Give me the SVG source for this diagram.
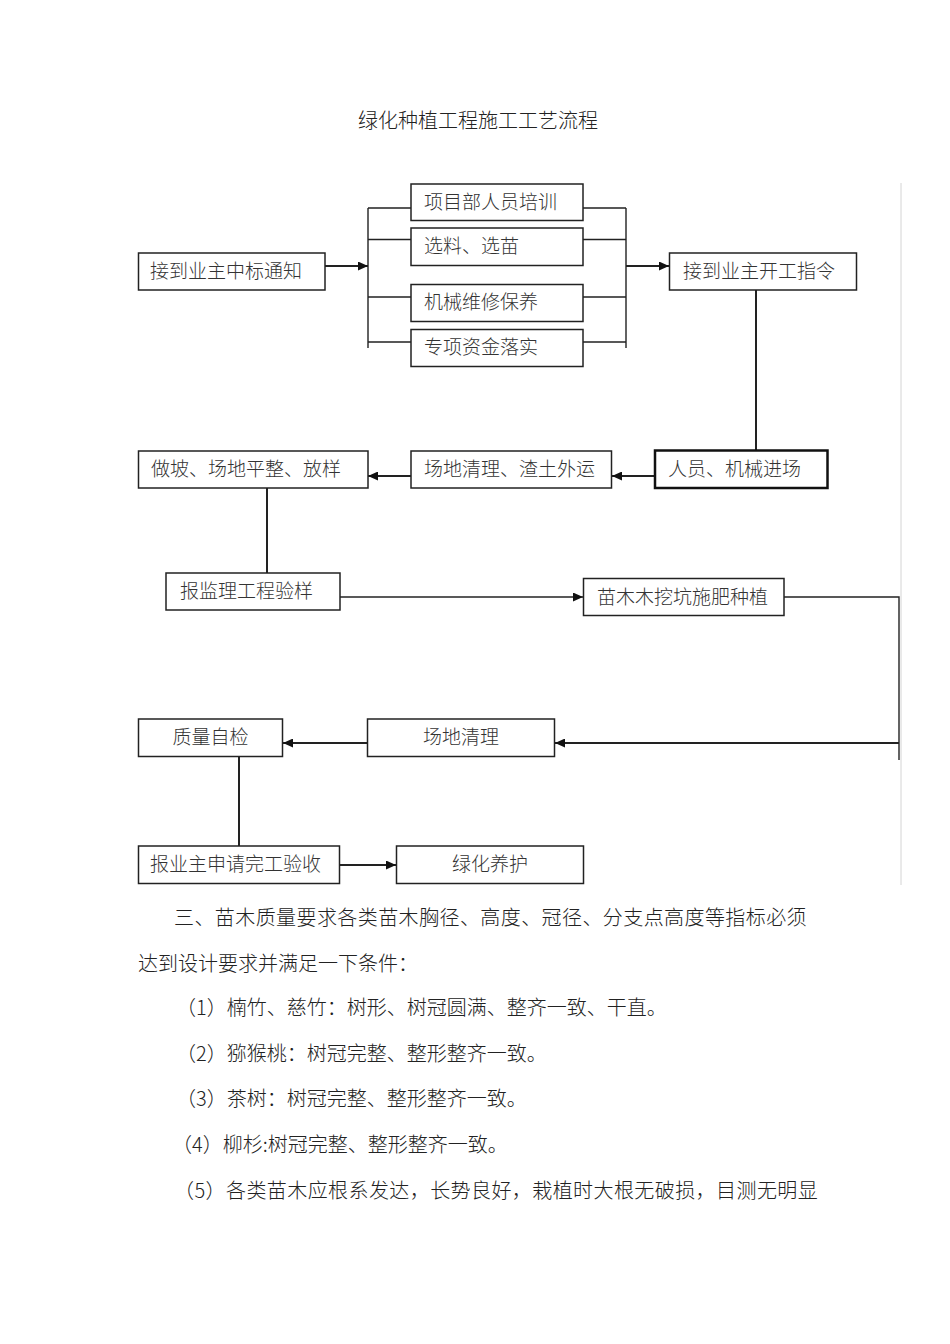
<svg xmlns="http://www.w3.org/2000/svg" width="950" height="1344" viewBox="0 0 950 1344">
<defs>
<style>
.bx{fill:#fff;stroke:#222;stroke-width:1.5}
.bxt{fill:#fff;stroke:#111;stroke-width:2.5}
.t{font-family:"Noto Sans CJK SC","Noto Sans",sans-serif;font-size:19px;fill:#333;font-weight:300}
.c{text-anchor:middle}
.p{font-family:"Noto Sans CJK SC","Noto Sans",sans-serif;font-size:20px;fill:#222;font-weight:300}
.w{letter-spacing:0.42px}
.ln{fill:none;stroke:#222;stroke-width:2}
.lt{fill:none;stroke:#222;stroke-width:1.4}
</style>
<marker id="ah" markerUnits="userSpaceOnUse" markerWidth="10" markerHeight="9" refX="10" refY="4.5" orient="auto">
<path d="M0,0 L10,4.5 L0,9 z" fill="#111"/>
</marker>
</defs>
<rect width="950" height="1344" fill="#fff"/>
<line x1="901" y1="183" x2="901" y2="885" stroke="#d4d4d4" stroke-width="1"/>
<text class="p c" x="478" y="128">绿化种植工程施工工艺流程</text>

<g id="connectors">
<path class="ln" d="M325,266 H368" marker-end="url(#ah)"/>
<path class="lt" d="M368,208 V348 M368,208 H411 M368,239.5 H411 M368,297 H411 M368,342 H411"/>
<path class="lt" d="M626,208 V348 M583,208 H626 M583,239.5 H626 M583,297 H626 M583,342 H626"/>
<path class="ln" d="M626,266 H669" marker-end="url(#ah)"/>
<path class="ln" d="M756,290 V450"/>
<path class="ln" d="M655,476 H612" marker-end="url(#ah)"/>
<path class="ln" d="M411,476 H368" marker-end="url(#ah)"/>
<path class="ln" d="M267,488 V573"/>
<path class="lt" d="M340,597 H583" marker-end="url(#ah)"/>
<path class="lt" d="M784,597 H899 V760"/>
<path class="ln" d="M899,743 H555" marker-end="url(#ah)"/>
<path class="ln" d="M368,743 H283" marker-end="url(#ah)"/>
<path class="ln" d="M239,757 V846"/>
<path class="ln" d="M340,865 H396" marker-end="url(#ah)"/>
</g>

<g id="n1"><rect class="bx" x="138.5" y="253" width="186.5" height="37"/><text class="t" x="150" y="278">接到业主中标通知</text></g>
<g id="n2"><rect class="bx" x="411" y="184" width="172" height="36.5"/><text class="t" x="424" y="209">项目部人员培训</text></g>
<g id="n3"><rect class="bx" x="411" y="228" width="172" height="37.5"/><text class="t" x="424" y="253">选料、选苗</text></g>
<g id="n4"><rect class="bx" x="411" y="284.5" width="172" height="37"/><text class="t" x="424" y="309">机械维修保养</text></g>
<g id="n5"><rect class="bx" x="411" y="329.5" width="172" height="37"/><text class="t" x="424" y="354">专项资金落实</text></g>
<g id="n6"><rect class="bx" x="669.5" y="253" width="187" height="37"/><text class="t" x="683" y="278">接到业主开工指令</text></g>
<g id="n7"><rect class="bxt" x="655" y="450.5" width="172.5" height="37.5"/><text class="t" x="668" y="476">人员、机械进场</text></g>
<g id="n8"><rect class="bx" x="411" y="451" width="200.5" height="37"/><text class="t" x="424" y="476">场地清理、渣土外运</text></g>
<g id="n9"><rect class="bx" x="138.5" y="451" width="229.5" height="37"/><text class="t" x="151" y="476">做坡、场地平整、放样</text></g>
<g id="n10"><rect class="bx" x="166" y="573" width="174" height="37"/><text class="t" x="180" y="598">报监理工程验样</text></g>
<g id="n11"><rect class="bx" x="583.5" y="578.5" width="200.5" height="37"/><text class="t" x="597" y="604">苗木木挖坑施肥种植</text></g>
<g id="n12"><rect class="bx" x="367.5" y="719" width="187" height="37.5"/><text class="t c" x="461" y="744">场地清理</text></g>
<g id="n13"><rect class="bx" x="138.5" y="719" width="144" height="37.5"/><text class="t c" x="210.5" y="744">质量自检</text></g>
<g id="n14"><rect class="bx" x="138.5" y="846" width="201" height="37.5"/><text class="t" x="150" y="871">报业主申请完工验收</text></g>
<g id="n15"><rect class="bx" x="396.5" y="846" width="187" height="37.5"/><text class="t c" x="490" y="871">绿化养护</text></g>

<text class="p w" x="174" y="925">三、苗木质量要求各类苗木胸径、高度、冠径、分支点高度等指标必须</text>
<text class="p" x="138" y="971">达到设计要求并满足一下条件：</text>
<text class="p" x="176" y="1015">（1）楠竹、慈竹：树形、树冠圆满、整齐一致、干直。</text>
<text class="p" x="176" y="1061">（2）猕猴桃：树冠完整、整形整齐一致。</text>
<text class="p" x="176" y="1106">（3）茶树：树冠完整、整形整齐一致。</text>
<text class="p" x="172" y="1152">（4）柳杉:树冠完整、整形整齐一致。</text>
<text class="p w" x="174" y="1198">（5）各类苗木应根系发达，长势良好，栽植时大根无破损，目测无明显</text>
</svg>
